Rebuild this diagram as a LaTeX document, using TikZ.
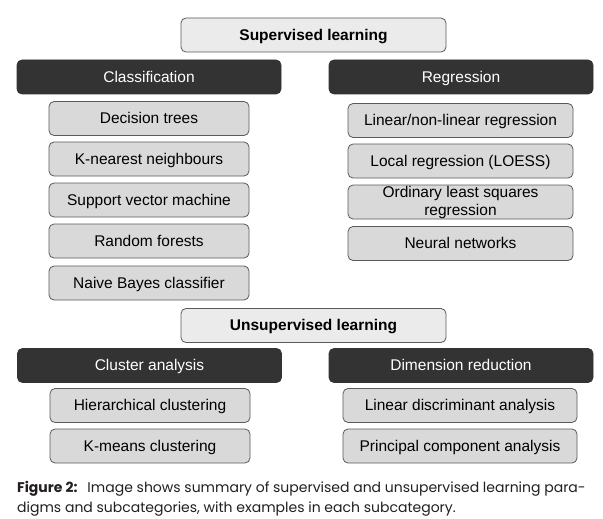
\documentclass[tikz,border=0pt]{standalone}
\usepackage{fontspec}
\setmainfont{Liberation Sans}
\newfontfamily\capfont{Poppins}
\definecolor{topfill}{HTML}{EBEBEB}
\definecolor{darkfill}{HTML}{333333}
\definecolor{itemfill}{HTML}{D9D9D9}
\definecolor{edgecol}{HTML}{5A5A5A}
\definecolor{captext}{HTML}{231F20}
\begin{document}
\begin{tikzpicture}[x=1pt,y=-1pt,
  basebox/.style={rounded corners=5pt, inner sep=0pt, font=\fontsize{15.5}{17}\selectfont, line width=0.8pt},
  oneline/.style={text height=11pt, text depth=0.3pt},
  topbox/.style={basebox, oneline, draw=edgecol, fill=topfill, minimum width=265pt, minimum height=34pt, font=\fontsize{15.5}{17}\selectfont\bfseries},
  catbox/.style={basebox, oneline, draw=darkfill, fill=darkfill, text=white, minimum width=264pt, minimum height=34pt},
  itemplain/.style={basebox, draw=edgecol, fill=itemfill, minimum height=34pt, align=center},
  itembox/.style={itemplain, oneline}
]
\useasboundingbox (0,0) rectangle (603,519);
\fill[white] (0,0) rectangle (603,519);

\node[topbox] (sup) at (313.5,35) {Supervised learning};
\node[catbox] (cls) at (149,77) {Classification};
\node[catbox] (reg) at (461,77) {Regression};

\node[itembox, minimum width=200pt] (dt) at (149,118.5) {Decision trees};
\node[itembox, minimum width=200pt] (knn) at (149,159) {K-nearest neighbours};
\node[itembox, minimum width=200pt] (svm) at (149,200) {Support vector machine};
\node[itembox, minimum width=200pt] (rf) at (149,241) {Random forests};
\node[itembox, minimum width=200pt] (nb) at (149,283) {Naive Bayes classifier};

\node[itembox, minimum width=225pt] (lin) at (460.5,120.5) {Linear/non-linear regression};
\node[itembox, minimum width=225pt] (loc) at (460.5,161) {Local regression (LOESS)};
\node[itemplain, minimum width=225pt, font=\fontsize{15.5}{18.5}\selectfont] (ols) at (460.5,202) {\rule{0pt}{12pt}Ordinary least squares\\regression};
\node[itembox, minimum width=225pt] (nn) at (460.5,243.5) {Neural networks};

\node[topbox] (unsup) at (313.5,325.5) {Unsupervised learning};
\node[catbox] (clu) at (149.5,365.5) {Cluster analysis};
\node[catbox] (dim) at (461,365.5) {Dimension reduction};

\node[itembox, minimum width=200pt] (hc) at (150,405.5) {Hierarchical clustering};
\node[itembox, minimum width=200pt] (km) at (150,446) {K-means clustering};
\node[itembox, minimum width=234pt] (lda) at (460,405.5) {Linear discriminant analysis};
\node[itembox, minimum width=234pt] (pca) at (460,446) {Principal component analysis};

\node[anchor=north west, inner sep=0pt, text=captext, align=left,
      font=\capfont\fontsize{14}{20}\selectfont] (cap) at (17,481)
  {{\bfseries Figure 2:}\hspace{10pt}Image shows summary of supervised and unsupervised learning para-\\digms and subcategories, with examples in each subcategory.};
\end{tikzpicture}
\end{document}
